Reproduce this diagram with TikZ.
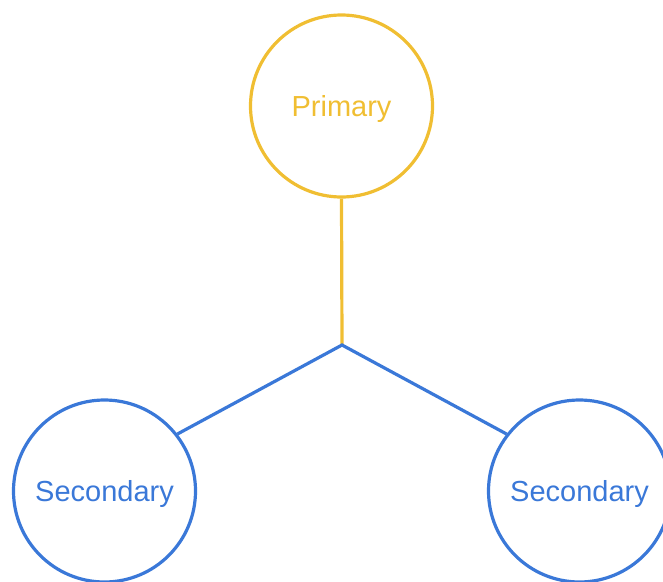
\documentclass[tikz,border=0pt]{standalone}
\usepackage{fontspec}
\setmainfont{Liberation Sans}
\definecolor{prim}{RGB}{240,190,50}
\definecolor{sec}{RGB}{58,120,216}
\begin{document}
\begin{tikzpicture}[x=1pt,y=-1pt,
  bubble/.style={circle,draw,line width=3.2pt,inner sep=0pt,minimum size=182pt,text depth=0pt,font=\fontsize{29}{30}\selectfont},
  link/.style={line width=3.2pt}]
\path[use as bounding box, clip] (0,0) rectangle (663,581);
\node[bubble,draw=prim,text=prim] (p) at (341.5,106) {Primary};
\node[bubble,draw=sec,text=sec] (l) at (104.5,491) {Secondary};
\node[bubble,draw=sec,text=sec] (r) at (579.5,491) {Secondary};
\coordinate (j) at (342,345);
\draw[link,prim] (p.south) -- (j);
\draw[link,sec,line join=miter] (l.38) -- (j) -- (r.142);
\end{tikzpicture}
\end{document}
